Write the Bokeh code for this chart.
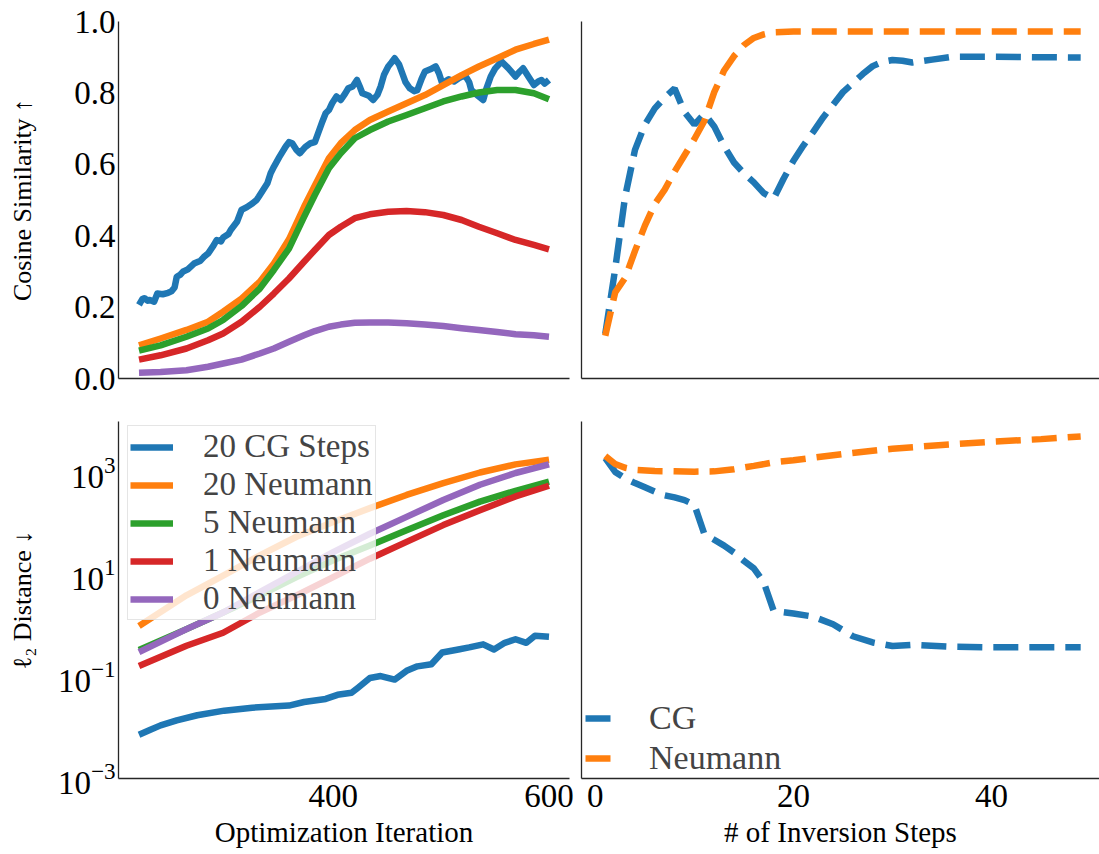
from bokeh.plotting import figure
from bokeh.layouts import column, row
from bokeh.models import FixedTicker, PrintfTickFormatter, Range1d
from bokeh.embed import file_html
from bokeh.resources import INLINE

# ---------------- data ----------------
# Top-left: cosine similarity vs optimization iteration
iters_smooth = [220, 240, 264, 284, 298, 315, 332, 345, 359, 373, 383, 396, 407,
                420, 434, 451, 468, 485, 502, 519, 535, 552, 569, 586, 600]
cos_20_neumann = [0.093, 0.112, 0.136, 0.159, 0.187, 0.224, 0.271, 0.322, 0.390, 0.481,
                  0.541, 0.617, 0.659, 0.696, 0.724, 0.748, 0.771, 0.794, 0.822, 0.850,
                  0.874, 0.897, 0.921, 0.937, 0.949]
cos_5_neumann = [0.078, 0.093, 0.117, 0.140, 0.164, 0.203, 0.252, 0.304, 0.364, 0.453,
                 0.514, 0.589, 0.631, 0.673, 0.696, 0.720, 0.738, 0.757, 0.776, 0.790,
                 0.801, 0.808, 0.808, 0.799, 0.782]
cos_1_neumann = [0.053, 0.065, 0.084, 0.107, 0.126, 0.159, 0.201, 0.238, 0.280, 0.327,
                 0.360, 0.402, 0.425, 0.449, 0.460, 0.467, 0.469, 0.466, 0.458, 0.444,
                 0.425, 0.407, 0.388, 0.374, 0.362]
cos_0_neumann = [0.016, 0.018, 0.023, 0.033, 0.042, 0.053, 0.070, 0.084, 0.103, 0.121,
                 0.133, 0.145, 0.151, 0.156, 0.157, 0.157, 0.155, 0.151, 0.147, 0.141,
                 0.136, 0.130, 0.124, 0.121, 0.117]
iters_cg = [220, 223, 225, 228, 230, 234, 237, 242, 247, 250, 253, 255, 258, 261, 265,
            271, 277, 280, 284, 289, 292, 296, 298, 303, 305, 311, 315, 320, 325, 329,
            331, 335, 339, 342, 345, 350, 356, 359, 362, 366, 369, 374, 379, 383, 386,
            390, 393, 396, 399, 403, 407, 411, 414, 418, 422, 425, 427, 433, 437, 441,
            444, 447, 451, 454, 457, 461, 464, 467, 471, 475, 478, 482, 485, 490, 495,
            498, 501, 507, 512, 517, 522, 526, 528, 533, 539, 542, 546, 550, 556, 562,
            569, 573, 576, 581, 586, 590, 593, 596, 600]
cos_20_cg = [0.206, 0.222, 0.225, 0.218, 0.220, 0.215, 0.238, 0.236, 0.240, 0.244, 0.255,
             0.285, 0.290, 0.300, 0.305, 0.322, 0.330, 0.340, 0.350, 0.372, 0.388, 0.384,
             0.395, 0.405, 0.416, 0.440, 0.472, 0.480, 0.490, 0.500, 0.509, 0.528, 0.547,
             0.575, 0.593, 0.620, 0.650, 0.662, 0.659, 0.640, 0.631, 0.648, 0.659, 0.662,
             0.687, 0.720, 0.743, 0.752, 0.771, 0.790, 0.780, 0.798, 0.813, 0.818, 0.836,
             0.815, 0.799, 0.792, 0.780, 0.795, 0.818, 0.850, 0.874, 0.885, 0.897, 0.880,
             0.855, 0.830, 0.813, 0.805, 0.808, 0.840, 0.860, 0.866, 0.874, 0.855, 0.827,
             0.838, 0.832, 0.842, 0.850, 0.830, 0.808, 0.795, 0.780, 0.812, 0.846, 0.868,
             0.888, 0.870, 0.846, 0.860, 0.869, 0.845, 0.822, 0.832, 0.836, 0.826, 0.836]

# Bottom-left: l2 distance vs optimization iteration (log y)
iters_l2 = [220, 264, 298, 332, 366, 400, 434, 468, 502, 536, 569, 600]
l2_20_neumann = [0.98, 3.9, 9.5, 23.7, 55, 107, 200, 363, 617, 1000, 1445, 1780]
l2_5_neumann = [0.33, 0.85, 1.8, 3.9, 8.9, 19, 37, 74, 145, 269, 437, 661]
l2_1_neumann = [0.16, 0.40, 0.72, 1.8, 3.9, 8.9, 20.4, 43.7, 93, 182, 339, 550]
l2_0_neumann = [0.30, 0.85, 1.8, 4.5, 11.2, 27.5, 63, 135, 288, 575, 977, 1445]
iters_l2_cg = [220, 230, 240, 255, 274, 299, 325, 359, 373, 393, 404, 417, 423, 434,
               444, 457, 468, 478, 491, 501, 516, 526, 539, 549, 559, 569, 579, 587, 600]
l2_20_cg = [0.0072, 0.0089, 0.011, 0.0138, 0.0174, 0.0214, 0.0245, 0.0269, 0.0316,
            0.0363, 0.0437, 0.0479, 0.0603, 0.0933, 0.102, 0.0871, 0.129, 0.158, 0.174,
            0.295, 0.339, 0.372, 0.427, 0.339, 0.457, 0.537, 0.457, 0.631, 0.603]

# Top-right: cosine similarity vs number of inversion steps
steps_cg_cos = [1, 2, 3, 4, 5, 6, 7, 8, 9, 10, 11, 12, 13, 14, 15, 16, 17, 18, 19, 20,
                21, 22, 23, 24, 25, 26, 27, 28, 29, 30, 31, 32, 34, 36, 40, 44, 49]
cos_cg_steps = [0.11, 0.29, 0.49, 0.62, 0.69, 0.735, 0.765, 0.79, 0.725, 0.69, 0.72,
                0.685, 0.63, 0.585, 0.555, 0.53, 0.50, 0.485, 0.54, 0.59, 0.632, 0.67,
                0.71, 0.745, 0.78, 0.805, 0.83, 0.852, 0.864, 0.869, 0.867, 0.862,
                0.87, 0.878, 0.878, 0.877, 0.876]
steps_neu_cos = [1, 2, 3, 4, 5, 6, 7, 8, 9, 10, 11, 12, 13, 14, 15, 16, 17, 18, 20,
                 25, 30, 40, 49]
cos_neu_steps = [0.105, 0.225, 0.265, 0.34, 0.41, 0.47, 0.51, 0.56, 0.605, 0.65, 0.70,
                 0.78, 0.84, 0.88, 0.91, 0.93, 0.94, 0.946, 0.948, 0.948, 0.948,
                 0.948, 0.948]

# Bottom-right: l2 distance vs number of inversion steps
steps_cg_l2 = [1, 2, 3, 4, 5, 6, 7, 8, 9, 10, 11, 12, 13, 14, 15, 16, 17, 18, 20, 22,
               24, 26, 28, 30, 32, 36, 40, 49]
l2_cg_steps = [1259, 692, 525, 427, 355, 295, 251, 229, 204, 166, 46.8, 36.3, 28.2,
               20.9, 14.5, 10.5, 5.75, 1.66, 1.48, 1.29, 0.93, 0.55, 0.42, 0.36, 0.38,
               0.35, 0.34, 0.34]
steps_neu_l2 = [1, 2, 3, 4, 6, 8, 10, 12, 14, 16, 18, 20, 25, 30, 35, 40, 45, 49]
l2_neu_steps = [1380, 980, 830, 760, 720, 710, 700, 710, 780, 900, 1050, 1150, 1510,
                1900, 2240, 2570, 2880, 3240]

BLUE, ORANGE, GREEN, RED, PURPLE = "#1f77b4", "#ff7f0e", "#2ca02c", "#d62728", "#9467bd"
FONT = "Liberation Serif"
TICK_FS = "33px"
YLABEL_FS = "26px"
XLABEL_FS = "29px"


def style(p):
    p.outline_line_color = None
    p.background_fill_color = "white"
    p.border_fill_color = "white"
    p.xgrid.visible = False
    p.ygrid.visible = False
    for ax in p.axis:
        ax.axis_line_color = "#262626"
        ax.axis_line_width = 1.3
        ax.major_tick_line_color = None
        ax.minor_tick_line_color = None
        ax.major_tick_out = 0
        ax.major_tick_in = 0
        ax.minor_tick_out = 0
        ax.minor_tick_in = 0
        ax.major_label_text_font = FONT
        ax.major_label_text_font_size = TICK_FS
        ax.major_label_text_color = "black"
        ax.axis_label_text_font = FONT
        ax.axis_label_text_font_style = "normal"
        ax.axis_label_text_color = "black"
    p.xaxis.axis_label_text_font_size = XLABEL_FS
    p.yaxis.axis_label_text_font_size = YLABEL_FS


common = dict(output_backend="svg", toolbar_location=None)
LW = 6.5
X_RANGE_ITER = (201, 619)

# ---------- top-left ----------
p1 = figure(width=575, height=400,
            x_range=Range1d(*X_RANGE_ITER), y_range=Range1d(0, 1),
            min_border_left=118, min_border_right=6, min_border_top=21,
            min_border_bottom=22, **common)
p1.line(iters_cg, cos_20_cg, color=BLUE, line_width=LW, line_join="round")
p1.line(iters_smooth, cos_20_neumann, color=ORANGE, line_width=LW, line_join="round")
p1.line(iters_smooth, cos_5_neumann, color=GREEN, line_width=LW, line_join="round")
p1.line(iters_smooth, cos_1_neumann, color=RED, line_width=LW, line_join="round")
p1.line(iters_smooth, cos_0_neumann, color=PURPLE, line_width=LW, line_join="round")
style(p1)
p1.xaxis.ticker = FixedTicker(ticks=[])
p1.yaxis.ticker = FixedTicker(ticks=[0.0, 0.2, 0.4, 0.6, 0.8, 1.0])
p1.yaxis.formatter = PrintfTickFormatter(format="%.1f")
p1.yaxis.major_label_standoff = 3
p1.yaxis.axis_label = "Cosine Similarity \u2191"
p1.yaxis.axis_label_standoff = 34

# ---------- top-right ----------
p2 = figure(width=524, height=400, x_range=Range1d(-1.4, 50.9),
            y_range=Range1d(-0.0135, 0.9757),
            min_border_left=6, min_border_right=0, min_border_top=21,
            min_border_bottom=22, **common)
p2.line(steps_cg_cos, cos_cg_steps, color=BLUE, line_width=6.5, line_dash="25 11")
p2.line(steps_neu_cos, cos_neu_steps, color=ORANGE, line_width=6.5, line_dash="25 11")
style(p2)
p2.xaxis.ticker = FixedTicker(ticks=[])
p2.yaxis.ticker = FixedTicker(ticks=[])

# ---------- bottom-left ----------
p3 = figure(width=575, height=454, y_axis_type="log",
            x_range=Range1d(*X_RANGE_ITER), y_range=Range1d(1e-3, 1e4),
            min_border_left=118, min_border_right=6, min_border_top=21,
            min_border_bottom=76, **common)
p3.line(iters_l2_cg, l2_20_cg, color=BLUE, line_width=LW, line_join="round",
        legend_label="20 CG Steps")
p3.line(iters_l2, l2_20_neumann, color=ORANGE, line_width=LW, line_join="round",
        legend_label="20 Neumann")
p3.line(iters_l2, l2_5_neumann, color=GREEN, line_width=LW, line_join="round",
        legend_label="5 Neumann")
p3.line(iters_l2, l2_1_neumann, color=RED, line_width=LW, line_join="round",
        legend_label="1 Neumann")
p3.line(iters_l2, l2_0_neumann, color=PURPLE, line_width=LW, line_join="round",
        legend_label="0 Neumann")
style(p3)
p3.xaxis.ticker = FixedTicker(ticks=[400, 600])
p3.xaxis.formatter = PrintfTickFormatter(format="%d")
p3.xaxis.major_label_standoff = 6
p3.xaxis.axis_label = "Optimization Iteration"
p3.xaxis.axis_label_standoff = 6
p3.yaxis.ticker = FixedTicker(ticks=[1e-3, 1e-1, 1e1, 1e3])
p3.yaxis.major_label_standoff = 3
p3.yaxis.axis_label = "\u2113\u2082 Distance \u2193"
p3.yaxis.axis_label_standoff = 18
lg = p3.legend[0]
lg.location = (9, 158)
lg.label_text_font = FONT
lg.label_text_font_size = "33px"
lg.label_height = 34
lg.glyph_height = 34
lg.glyph_width = 43
lg.label_standoff = 30
lg.spacing = 1
lg.padding = 2
lg.margin = 0
lg.border_line_color = "#cccccc"
lg.border_line_width = 1
lg.background_fill_color = "white"
lg.background_fill_alpha = 0.8

# ---------- bottom-right ----------
p4 = figure(width=524, height=454, y_axis_type="log",
            x_range=Range1d(-1.4, 50.9), y_range=Range1d(0.00114, 6194),
            min_border_left=6, min_border_right=0, min_border_top=21,
            min_border_bottom=76, **common)
p4.line(steps_cg_l2, l2_cg_steps, color=BLUE, line_width=6.5, line_dash="25 11",
        legend_label="CG")
p4.line(steps_neu_l2, l2_neu_steps, color=ORANGE, line_width=6.5, line_dash="25 11",
        legend_label="Neumann")
style(p4)
p4.yaxis.ticker = FixedTicker(ticks=[])
p4.xaxis.ticker = FixedTicker(ticks=[0, 20, 40])
p4.xaxis.major_label_standoff = 6
p4.xaxis.axis_label = "# of Inversion Steps"
p4.xaxis.axis_label_standoff = 6
lg4 = p4.legend[0]
lg4.location = (4, 1)
lg4.label_text_font = FONT
lg4.label_text_font_size = "34px"
lg4.label_height = 34
lg4.glyph_height = 34
lg4.glyph_width = 27
lg4.label_standoff = 37
lg4.spacing = 2
lg4.padding = 0
lg4.margin = 0
lg4.border_line_color = None
lg4.background_fill_alpha = 0

layout = column(row(p1, p2, spacing=0), row(p3, p4, spacing=0), spacing=0)
open("out.html", "w").write(file_html(layout, INLINE))
